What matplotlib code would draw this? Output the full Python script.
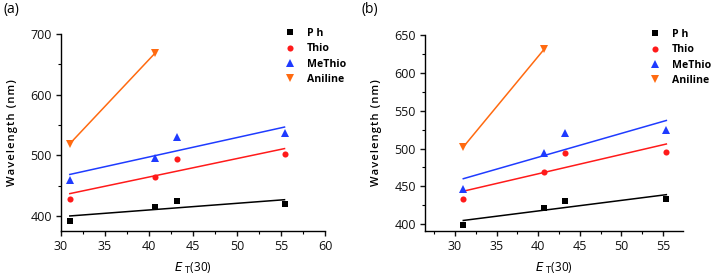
import matplotlib
matplotlib.use("Agg")
import matplotlib.pyplot as plt
import matplotlib.ticker as mticker
import numpy as np

plt.rcParams['font.family'] = ['Open Sans', 'DejaVu Sans']

# E_T(30) values of the solvents
et30 = [31.0, 40.7, 43.2, 55.4]
et30_aniline = [31.0, 40.7]

# panel (a)
a_ph = [391.7, 414.3, 424.8, 419.3]
a_thio = [428.0, 463.8, 494.0, 501.8]
a_methio = [459.0, 496.0, 530.0, 536.5]
a_aniline = [519.0, 668.6]

# panel (b)
b_ph = [398.7, 421.5, 430.8, 433.4]
b_thio = [433.4, 469.5, 493.8, 496.0]
b_methio = [447.0, 493.8, 521.0, 524.6]
b_aniline = [502.0, 631.0]

names = ["Ph", "Thio", "MeThio", "Aniline"]
colors = ["#000000", "#FF1A1A", "#1F3BFF", "#FF6A10"]
markers = ["s", "o", "^", "v"]
msizes = [3.8, 4.4, 5.2, 5.2]

fig = plt.figure(figsize=(7.12, 2.79), dpi=100)
ax_a = fig.add_axes([61 / 712, 48 / 279, 264 / 712, 197 / 279])
ax_b = fig.add_axes([425 / 712, 48 / 279, 258 / 712, 196 / 279])

hair = "\u200a"


def draw_panel(ax, series, xs_list, leg_x):
    handles = []
    for name, ys, xs, c, m, ms in zip(names, series, xs_list, colors, markers, msizes):
        xs = np.array(xs)
        ys = np.array(ys)
        k, b = np.polyfit(xs, ys, 1)
        xf = np.array([xs.min(), xs.max()])
        ax.plot(xf, k * xf + b, color=c, lw=1.1, zorder=2)
        h, = ax.plot(xs, ys, ls="none", marker=m, ms=ms, color=c,
                     markeredgewidth=0, zorder=3, label=name)
        handles.append(h)
    for s in ("top", "right"):
        ax.spines[s].set_visible(False)
    for s in ("left", "bottom"):
        ax.spines[s].set_linewidth(1.0)
    ax.tick_params(which="major", direction="out", length=3.5, width=1.0,
                   labelsize=9, colors="#111111", pad=3)
    ax.tick_params(which="minor", direction="out", length=2, width=0.8)
    ax.set_ylabel(hair.join("Wavelength (nm)"), fontsize=8, fontweight="semibold",
                  labelpad=9)
    ax.set_xlabel(r"$E$ $_{\mathrm{T}}$(30)", fontsize=8.5, labelpad=6)
    leg = ax.legend(handles=handles, frameon=False, loc="upper left",
                    bbox_to_anchor=(leg_x, 1.03), fontsize=7.6,
                    handlelength=1.0, handletextpad=1.1, labelspacing=0.4,
                    borderaxespad=0, borderpad=0)
    for t in leg.get_texts():
        t.set_fontweight("bold")
        if t.get_text() == "Ph":
            t.set_text("P h")
    return leg


draw_panel(ax_a, [a_ph, a_thio, a_methio, a_aniline],
           [et30, et30, et30, et30_aniline], 0.847)
ax_a.set_xlim(30, 60)
ax_a.set_ylim(375, 700)
ax_a.xaxis.set_major_locator(mticker.MultipleLocator(5))
ax_a.xaxis.set_minor_locator(mticker.MultipleLocator(2.5))
ax_a.yaxis.set_major_locator(mticker.MultipleLocator(100))
ax_a.yaxis.set_minor_locator(mticker.MultipleLocator(50))

draw_panel(ax_b, [b_ph, b_thio, b_methio, b_aniline],
           [et30, et30, et30, et30_aniline], 0.870)
ax_b.set_xlim(26.4, 57.4)
ax_b.set_ylim(391, 650)
ax_b.xaxis.set_major_locator(mticker.MultipleLocator(5))
ax_b.xaxis.set_minor_locator(mticker.MultipleLocator(2.5))
ax_b.yaxis.set_major_locator(mticker.MultipleLocator(50))
ax_b.yaxis.set_minor_locator(mticker.MultipleLocator(25))

fig.text(3 / 712, 1 - 9 / 279, "(a)", fontsize=10, va="center", ha="left")
fig.text(362 / 712, 1 - 9 / 279, "(b)", fontsize=10, va="center", ha="left")

fig.savefig("out.png", dpi=100)
